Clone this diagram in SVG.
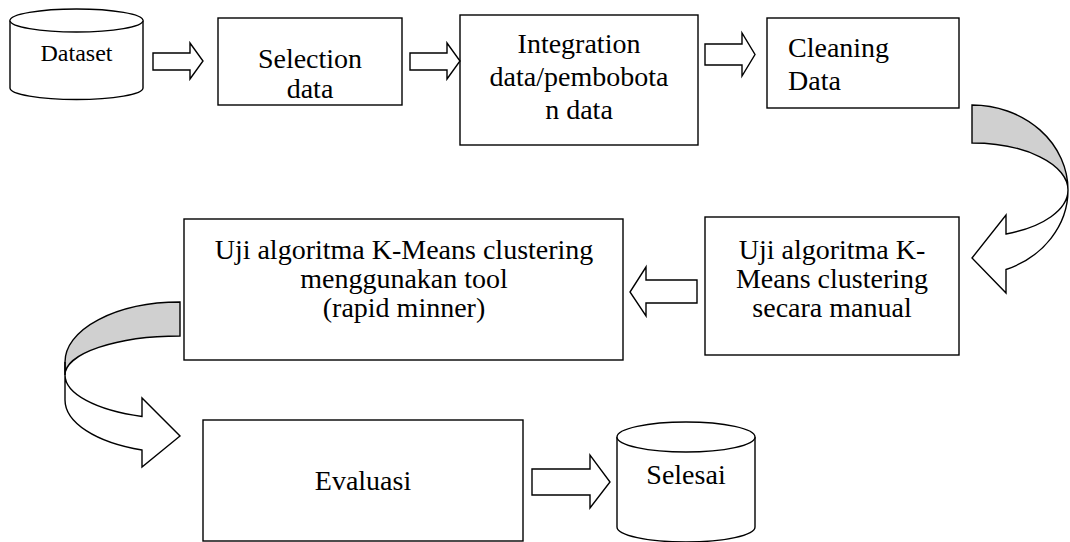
<svg xmlns="http://www.w3.org/2000/svg" width="1070" height="542" viewBox="0 0 1070 542">
<style>
.s{fill:#fff;stroke:#000;stroke-width:1.4}
.g{fill:#d0d0d0;stroke:#000;stroke-width:1.4}
.t{font-family:"Liberation Serif","Times New Roman",serif;font-size:28px;fill:#000}
.m{text-anchor:middle}
</style>
<rect width="1070" height="542" fill="#fff"/>
<g id="dataset">
<path class="s" d="M10,20.5 A66.5,11.5 0 0 1 143,20.5 V88 A66.5,11.5 0 0 1 10,88 Z"/>
<path class="s" d="M10,20.5 A66.5,11.5 0 0 0 143,20.5"/>
<text class="t m" x="76.5" y="61" style="font-size:24px">Dataset</text>
</g>
<g id="selection">
<rect class="s" x="218" y="18" width="184" height="87"/>
<text class="t m" x="310" y="68">Selection</text>
<text class="t m" x="310" y="98">data</text>
</g>
<g id="integration">
<rect class="s" x="460" y="15" width="238" height="130"/>
<text class="t m" x="579" y="53">Integration</text>
<text class="t m" x="579" y="86">data/pembobota</text>
<text class="t m" x="579" y="119">n data</text>
</g>
<g id="cleaning">
<rect class="s" x="767" y="18" width="192" height="90"/>
<text class="t" x="788" y="57">Cleaning</text>
<text class="t" x="788" y="90">Data</text>
</g>
<g id="manual">
<rect class="s" x="705" y="217" width="254" height="138"/>
<text class="t m" x="832" y="259">Uji algoritma K-</text>
<text class="t m" x="832" y="288">Means clustering</text>
<text class="t m" x="832" y="317">secara manual</text>
</g>
<g id="rapid">
<rect class="s" x="184" y="219" width="439" height="141"/>
<text class="t m" x="404" y="259">Uji algoritma K-Means clustering</text>
<text class="t m" x="404" y="288">menggunakan tool</text>
<text class="t m" x="404" y="317">(rapid minner)</text>
</g>
<g id="evaluasi">
<rect class="s" x="203" y="420" width="320" height="121"/>
<text class="t m" x="363" y="490">Evaluasi</text>
</g>
<g id="selesai">
<path class="s" d="M617,437 A69,15 0 0 1 755,437 V527 A69,15 0 0 1 617,527 Z"/>
<path class="s" d="M617,437 A69,15 0 0 0 755,437"/>
<text class="t m" x="686" y="484">Selesai</text>
</g>
<g id="connectors">
<path class="s" d="M153,53 H190 V43 L203,61 L190,79 V70 H153 Z"/>
<path class="s" d="M410,53 H447 V43 L460,61 L447,79 V70 H410 Z"/>
<path class="s" d="M705,44 H742 V33 L755,54.5 L742,76 V65 H705 Z"/>
<path class="g" d="M972,105 A96,85 0 0 1 1068,190 A96,47 0 0 0 972,143 Z"/>
<path class="s" d="M1068,190 A96,85 0 0 1 1006,269.5 L1006,293 L972,258 L1006,215 L1006,234 A96,47 0 0 0 1068,190 Z"/>
<path class="s" d="M697,280 H646 V267 L630,292 L646,316 V303 H697 Z"/>
<path class="g" d="M180,302 A115,60 0 0 0 65,362 L65,375 A115,39 0 0 1 180,336 Z"/>
<path class="s" d="M65,362 L65,400 A115,53 0 0 0 142,450 L142,467 L180,436 L142,398 L142,416.5 A115,44 0 0 1 65,375 Z"/>
<path class="s" d="M532,469 H590 V455 L610,482 L590,508 V495 H532 Z"/>
</g>
</svg>
